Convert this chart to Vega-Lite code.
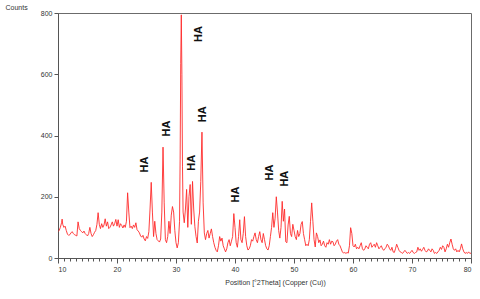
{
  "$schema": "https://vega.github.io/schema/vega-lite/v6.json",
  "width": 413,
  "height": 245,
  "autosize": {"type": "none"},
  "padding": {"left": 58, "top": 13, "right": 9, "bottom": 41},
  "background": "white",
  "config": {
    "view": {"stroke": "#6b6b6b", "strokeWidth": 1},
    "font": "Liberation Sans",
    "axis": {"grid": false, "domainColor": "#555", "tickColor": "#555", "labelColor": "#333", "labelFontSize": 7, "titleFontSize": 7, "titleFontWeight": "normal", "titleColor": "#333"}
  },
  "datasets": {
    "xrd": [
      {"t":10.0,"c":86},{"t":10.2,"c":90},{"t":10.4,"c":100},{"t":10.6,"c":115},{"t":10.7,"c":127},{"t":10.8,"c":110},{"t":11.0,"c":100},{"t":11.2,"c":104},{"t":11.4,"c":90},{"t":11.6,"c":78},{"t":11.8,"c":74},{"t":12.0,"c":76},{"t":12.2,"c":82},{"t":12.4,"c":86},{"t":12.6,"c":80},{"t":12.8,"c":76},{"t":13.0,"c":74},{"t":13.2,"c":72},{"t":13.4,"c":118},{"t":13.6,"c":96},{"t":13.8,"c":90},{"t":14.0,"c":86},{"t":14.2,"c":82},{"t":14.4,"c":88},{"t":14.6,"c":80},{"t":14.8,"c":76},{"t":15.0,"c":72},{"t":15.2,"c":80},{"t":15.4,"c":100},{"t":15.6,"c":80},{"t":15.8,"c":70},{"t":16.0,"c":76},{"t":16.2,"c":84},{"t":16.4,"c":90},{"t":16.6,"c":110},{"t":16.8,"c":148},{"t":17.0,"c":110},{"t":17.2,"c":96},{"t":17.4,"c":112},{"t":17.6,"c":100},{"t":17.8,"c":108},{"t":18.0,"c":128},{"t":18.2,"c":104},{"t":18.4,"c":118},{"t":18.6,"c":96},{"t":18.8,"c":100},{"t":19.0,"c":108},{"t":19.2,"c":118},{"t":19.4,"c":104},{"t":19.6,"c":112},{"t":19.8,"c":126},{"t":20.0,"c":104},{"t":20.2,"c":125},{"t":20.4,"c":100},{"t":20.6,"c":112},{"t":20.8,"c":106},{"t":21.0,"c":98},{"t":21.2,"c":108},{"t":21.4,"c":100},{"t":21.6,"c":120},{"t":21.8,"c":213},{"t":22.0,"c":150},{"t":22.2,"c":99},{"t":22.4,"c":104},{"t":22.6,"c":96},{"t":22.8,"c":108},{"t":23.0,"c":100},{"t":23.2,"c":115},{"t":23.4,"c":92},{"t":23.6,"c":88},{"t":23.8,"c":82},{"t":24.0,"c":72},{"t":24.2,"c":68},{"t":24.4,"c":74},{"t":24.6,"c":62},{"t":24.8,"c":56},{"t":25.0,"c":70},{"t":25.2,"c":64},{"t":25.4,"c":86},{"t":25.6,"c":160},{"t":25.8,"c":247},{"t":26.0,"c":150},{"t":26.2,"c":70},{"t":26.4,"c":120},{"t":26.6,"c":80},{"t":26.8,"c":60},{"t":27.0,"c":56},{"t":27.2,"c":52},{"t":27.4,"c":62},{"t":27.6,"c":150},{"t":27.8,"c":362},{"t":28.0,"c":180},{"t":28.2,"c":60},{"t":28.4,"c":50},{"t":28.6,"c":70},{"t":28.8,"c":120},{"t":29.0,"c":80},{"t":29.2,"c":140},{"t":29.4,"c":168},{"t":29.6,"c":150},{"t":29.8,"c":90},{"t":30.0,"c":50},{"t":30.2,"c":33},{"t":30.4,"c":50},{"t":30.6,"c":120},{"t":30.7,"c":323},{"t":30.8,"c":636},{"t":30.9,"c":794},{"t":31.0,"c":600},{"t":31.1,"c":300},{"t":31.2,"c":150},{"t":31.4,"c":115},{"t":31.6,"c":160},{"t":31.8,"c":224},{"t":32.0,"c":100},{"t":32.2,"c":200},{"t":32.4,"c":240},{"t":32.6,"c":110},{"t":32.8,"c":250},{"t":33.0,"c":160},{"t":33.2,"c":102},{"t":33.4,"c":70},{"t":33.6,"c":49},{"t":33.8,"c":120},{"t":34.0,"c":150},{"t":34.2,"c":250},{"t":34.4,"c":411},{"t":34.6,"c":180},{"t":34.8,"c":82},{"t":35.0,"c":60},{"t":35.2,"c":80},{"t":35.4,"c":90},{"t":35.6,"c":65},{"t":35.8,"c":80},{"t":36.0,"c":95},{"t":36.2,"c":70},{"t":36.4,"c":50},{"t":36.6,"c":35},{"t":36.8,"c":25},{"t":37.0,"c":20},{"t":37.2,"c":40},{"t":37.4,"c":70},{"t":37.6,"c":55},{"t":37.8,"c":65},{"t":38.0,"c":40},{"t":38.2,"c":30},{"t":38.4,"c":20},{"t":38.6,"c":30},{"t":38.8,"c":50},{"t":39.0,"c":60},{"t":39.2,"c":40},{"t":39.4,"c":55},{"t":39.6,"c":70},{"t":39.8,"c":145},{"t":40.0,"c":100},{"t":40.2,"c":50},{"t":40.4,"c":35},{"t":40.6,"c":70},{"t":40.8,"c":125},{"t":41.0,"c":60},{"t":41.2,"c":50},{"t":41.4,"c":80},{"t":41.6,"c":135},{"t":41.8,"c":70},{"t":42.0,"c":40},{"t":42.2,"c":26},{"t":42.4,"c":30},{"t":42.6,"c":40},{"t":42.8,"c":60},{"t":43.0,"c":55},{"t":43.2,"c":70},{"t":43.4,"c":82},{"t":43.6,"c":60},{"t":43.8,"c":50},{"t":44.0,"c":70},{"t":44.2,"c":86},{"t":44.4,"c":60},{"t":44.6,"c":50},{"t":44.8,"c":80},{"t":45.0,"c":60},{"t":45.2,"c":40},{"t":45.4,"c":30},{"t":45.6,"c":26},{"t":45.8,"c":40},{"t":46.0,"c":70},{"t":46.2,"c":100},{"t":46.4,"c":148},{"t":46.6,"c":100},{"t":46.8,"c":130},{"t":47.0,"c":200},{"t":47.2,"c":150},{"t":47.4,"c":90},{"t":47.6,"c":65},{"t":47.8,"c":100},{"t":48.0,"c":185},{"t":48.2,"c":120},{"t":48.4,"c":160},{"t":48.6,"c":53},{"t":48.8,"c":50},{"t":49.0,"c":108},{"t":49.2,"c":136},{"t":49.4,"c":80},{"t":49.6,"c":70},{"t":49.8,"c":110},{"t":50.0,"c":90},{"t":50.2,"c":70},{"t":50.4,"c":60},{"t":50.6,"c":90},{"t":50.8,"c":70},{"t":51.0,"c":80},{"t":51.2,"c":110},{"t":51.4,"c":119},{"t":51.6,"c":80},{"t":51.8,"c":60},{"t":52.0,"c":40},{"t":52.2,"c":45},{"t":52.4,"c":40},{"t":52.6,"c":60},{"t":52.8,"c":120},{"t":53.0,"c":180},{"t":53.2,"c":120},{"t":53.4,"c":60},{"t":53.6,"c":36},{"t":53.8,"c":82},{"t":54.0,"c":70},{"t":54.2,"c":50},{"t":54.4,"c":59},{"t":54.6,"c":40},{"t":54.8,"c":45},{"t":55.0,"c":55},{"t":55.2,"c":40},{"t":55.4,"c":35},{"t":55.6,"c":50},{"t":55.8,"c":45},{"t":56.0,"c":60},{"t":56.2,"c":45},{"t":56.4,"c":55},{"t":56.6,"c":53},{"t":56.8,"c":40},{"t":57.0,"c":45},{"t":57.2,"c":55},{"t":57.4,"c":60},{"t":57.6,"c":45},{"t":57.8,"c":40},{"t":58.0,"c":30},{"t":58.2,"c":20},{"t":58.4,"c":16},{"t":58.6,"c":18},{"t":58.8,"c":15},{"t":59.0,"c":18},{"t":59.2,"c":16},{"t":59.4,"c":40},{"t":59.6,"c":99},{"t":59.8,"c":80},{"t":60.0,"c":40},{"t":60.2,"c":36},{"t":60.4,"c":45},{"t":60.6,"c":30},{"t":60.8,"c":35},{"t":61.0,"c":30},{"t":61.2,"c":40},{"t":61.4,"c":50},{"t":61.6,"c":30},{"t":61.8,"c":25},{"t":62.0,"c":30},{"t":62.2,"c":40},{"t":62.4,"c":35},{"t":62.6,"c":30},{"t":62.8,"c":45},{"t":63.0,"c":50},{"t":63.2,"c":35},{"t":63.4,"c":40},{"t":63.6,"c":45},{"t":63.8,"c":35},{"t":64.0,"c":50},{"t":64.2,"c":40},{"t":64.4,"c":30},{"t":64.6,"c":35},{"t":64.8,"c":40},{"t":65.0,"c":30},{"t":65.2,"c":25},{"t":65.4,"c":30},{"t":65.6,"c":35},{"t":65.8,"c":45},{"t":66.0,"c":40},{"t":66.2,"c":30},{"t":66.4,"c":25},{"t":66.6,"c":35},{"t":66.8,"c":20},{"t":67.0,"c":18},{"t":67.2,"c":30},{"t":67.4,"c":45},{"t":67.6,"c":35},{"t":67.8,"c":25},{"t":68.0,"c":20},{"t":68.2,"c":18},{"t":68.4,"c":15},{"t":68.6,"c":20},{"t":68.8,"c":25},{"t":69.0,"c":20},{"t":69.2,"c":15},{"t":69.4,"c":18},{"t":69.6,"c":15},{"t":69.8,"c":20},{"t":70.0,"c":25},{"t":70.2,"c":18},{"t":70.4,"c":15},{"t":70.6,"c":18},{"t":70.8,"c":20},{"t":71.0,"c":35},{"t":71.2,"c":25},{"t":71.4,"c":30},{"t":71.6,"c":22},{"t":71.8,"c":28},{"t":72.0,"c":35},{"t":72.2,"c":25},{"t":72.4,"c":20},{"t":72.6,"c":22},{"t":72.8,"c":30},{"t":73.0,"c":25},{"t":73.2,"c":20},{"t":73.4,"c":30},{"t":73.6,"c":25},{"t":73.8,"c":15},{"t":74.0,"c":18},{"t":74.2,"c":15},{"t":74.4,"c":20},{"t":74.6,"c":25},{"t":74.8,"c":35},{"t":75.0,"c":28},{"t":75.2,"c":40},{"t":75.4,"c":35},{"t":75.6,"c":20},{"t":75.8,"c":30},{"t":76.0,"c":45},{"t":76.2,"c":35},{"t":76.4,"c":50},{"t":76.6,"c":62},{"t":76.8,"c":45},{"t":77.0,"c":30},{"t":77.2,"c":25},{"t":77.4,"c":30},{"t":77.6,"c":20},{"t":77.8,"c":25},{"t":78.0,"c":20},{"t":78.2,"c":30},{"t":78.4,"c":46},{"t":78.6,"c":30},{"t":78.8,"c":20},{"t":79.0,"c":15},{"t":79.2,"c":18},{"t":79.4,"c":15},{"t":79.6,"c":20},{"t":79.8,"c":15},{"t":80.0,"c":16}
    ],
    "labels": [
      {"t":24.7,"c":305,"lab":"HA"},
      {"t":28.5,"c":423,"lab":"HA"},
      {"t":33.9,"c":731,"lab":"HA"},
      {"t":32.7,"c":311,"lab":"HA"},
      {"t":34.6,"c":469,"lab":"HA"},
      {"t":40.2,"c":207,"lab":"HA"},
      {"t":45.9,"c":279,"lab":"HA"},
      {"t":48.5,"c":259,"lab":"HA"}
    ]
  },
  "layer": [
    {
      "data": {"name": "xrd"},
      "mark": {"type": "line", "color": "#ff2a2a", "strokeWidth": 0.9, "clip": true},
      "encoding": {
        "x": {"field": "t", "type": "quantitative", "scale": {"domain": [10, 80], "nice": false, "zero": false},
          "axis": {"values": [10,20,30,40,50,60,70,80], "format": "d", "tickSize": 5, "labelPadding": 2, "title": "Position [°2Theta] (Copper (Cu))", "titleX": 217, "titleAlign": "center", "titlePadding": 6}},
        "y": {"field": "c", "type": "quantitative", "scale": {"domain": [0, 800], "nice": false},
          "axis": {"values": [0,200,400,600,800], "tickSize": 4, "labelPadding": 2, "title": "Counts", "titleAngle": 0, "titleAlign": "left", "titleBaseline": "top", "titleX": -53, "titleY": -10}}
      }
    },
    {
      "data": {"name": "labels"},
      "mark": {"type": "text", "angle": 270, "fontWeight": "bold", "fontSize": 11, "color": "#111", "font": "Liberation Sans", "align": "center", "baseline": "middle"},
      "encoding": {
        "x": {"field": "t", "type": "quantitative", "axis": {"orient": "bottom", "values": [11,12,13,14,15,16,17,18,19,21,22,23,24,25,26,27,28,29,31,32,33,34,35,36,37,38,39,41,42,43,44,45,46,47,48,49,51,52,53,54,55,56,57,58,59,61,62,63,64,65,66,67,68,69,71,72,73,74,75,76,77,78,79], "labels": false, "domain": false, "tickSize": 3, "title": null}},
        "y": {"field": "c", "type": "quantitative"},
        "text": {"field": "lab"}
      }
    }
  ],
  "resolve": {"axis": {"x": "independent"}}
}
